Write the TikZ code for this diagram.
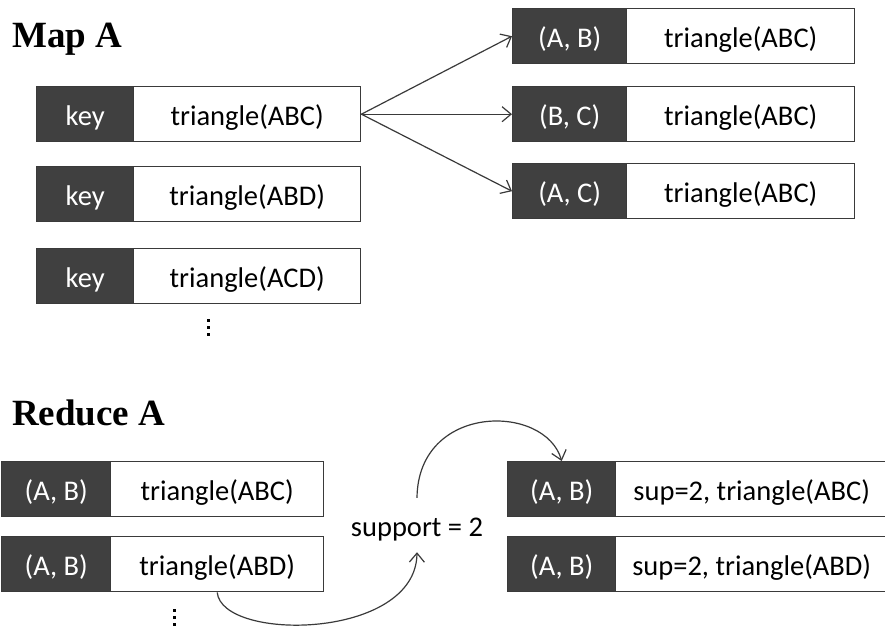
\documentclass[tikz,border=0pt]{standalone}
\usepackage{fontspec}
\setmainfont{Carlito}
\newfontfamily\titlefont{Liberation Serif}
\usetikzlibrary{arrows.meta}
\definecolor{keyfill}{HTML}{404040}
\definecolor{edge}{HTML}{3A3A3A}
\tikzset{
  cell/.style={draw=edge, line width=1.4pt, inner sep=0pt, anchor=north west,
    minimum height=55pt, text height=23pt, text depth=0pt,
    font=\fontsize{28.5}{31}\selectfont},
  keycell/.style={cell, fill=keyfill, text=white},
  valcell/.style={cell, fill=white, text=black},
  heading/.style={anchor=base west, inner sep=0pt,
    font=\titlefont\bfseries\fontsize{37}{40}\selectfont},
  link/.style={draw=edge, line width=1.2pt,
    -{Straight Barb[length=9pt,width=15pt,line width=1.2pt]}},
  dot/.style={fill=black, minimum size=3pt, inner sep=0pt}
}
\begin{document}
\begin{tikzpicture}[x=1pt,y=-1pt]
\useasboundingbox (0,0) rectangle (885,628);

% ---- Map A ----
\node[heading] (mapA) at (12,48) {Map A};

\node[keycell, minimum width=97pt] (mk1) at (36,86) {key};
\node[valcell, minimum width=227pt] (mv1) at (133,86) {triangle(ABC)};
\node[keycell, minimum width=97pt] (mk2) at (36,166) {key};
\node[valcell, minimum width=227pt] (mv2) at (133,166) {triangle(ABD)};
\node[keycell, minimum width=97pt] (mk3) at (36,248) {key};
\node[valcell, minimum width=227pt] (mv3) at (133,248) {triangle(ACD)};
% vertical ellipsis below the list
\foreach \k in {0,1,2} \node[dot] (md\k) at (208,320+7*\k) {};

\node[keycell, minimum width=114pt] (ok1) at (512,8) {(A, B)};
\node[valcell, minimum width=228pt] (ov1) at (626,8) {triangle(ABC)};
\node[keycell, minimum width=114pt] (ok2) at (512,86) {(B, C)};
\node[valcell, minimum width=228pt] (ov2) at (626,86) {triangle(ABC)};
\node[keycell, minimum width=114pt] (ok3) at (512,163) {(A, C)};
\node[valcell, minimum width=228pt] (ov3) at (626,163) {triangle(ABC)};

\draw[link] (mv1.east) -- (ok1.west);
\draw[link] (mv1.east) -- (ok2.west);
\draw[link] (mv1.east) -- (ok3.west);

% ---- Reduce A ----
\node[heading] (redA) at (12,425) {Reduce A};

\node[keycell, minimum width=109pt] (rk1) at (1,461) {(A, B)};
\node[valcell, minimum width=213pt] (rv1) at (110,461) {triangle(ABC)};
\node[keycell, minimum width=109pt] (rk2) at (1,536) {(A, B)};
\node[valcell, minimum width=213pt] (rv2) at (110,536) {triangle(ABD)};
\foreach \k in {0,1,2} \node[dot] (rd\k) at (174,610+7*\k) {};

\node[inner sep=0pt, minimum height=54pt, text height=23pt, text depth=0pt,
  font=\fontsize{28.5}{31}\selectfont] (sup) at (417,525) {support = 2};

\node[keycell, minimum width=108pt] (sk1) at (507,461) {(A, B)};
\node[valcell, minimum width=272pt] (sv1) at (615,461) {sup=2, triangle(ABC)};
\node[keycell, minimum width=108pt] (sk2) at (507,536) {(A, B)};
\node[valcell, minimum width=272pt] (sv2) at (615,536) {sup=2, triangle(ABD)};

\draw[link] (rv2.south) .. controls (222,642) and (416,640) .. (sup.south);
\draw[link] (sup.north) .. controls (418,403) and (545,403) .. (sk1.north);
\end{tikzpicture}
\end{document}
